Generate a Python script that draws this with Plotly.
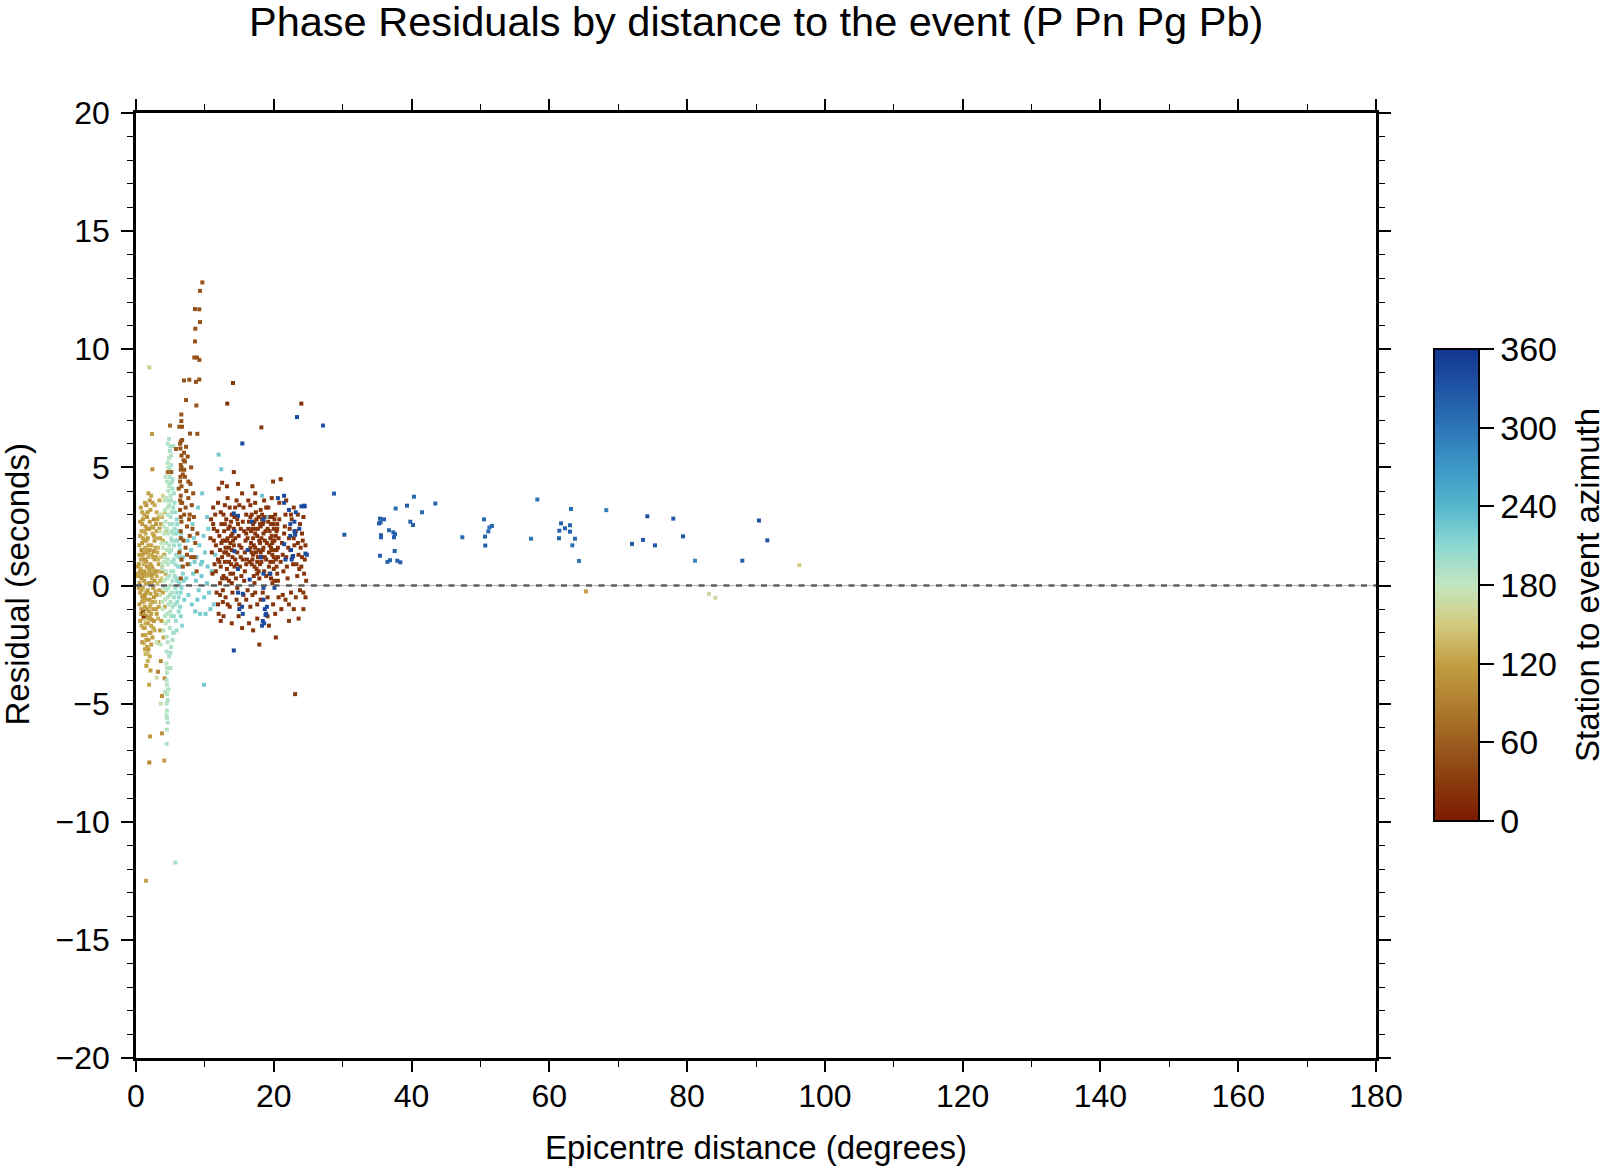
import plotly.graph_objects as go

# ---------------- data (distance deg, residual s, azimuth deg) ----------------
# near-field cluster, azimuth ~ 100-150 (ochre)
near_gold = [
(1.8,3.9,118),(2.0,3.6,112),(2.2,3.8,125),(1.5,3.4,108),(2.4,3.5,120),
(0.9,2.6,115),(1.2,3.0,128),(1.6,2.9,110),(2.1,3.2,122),(2.6,2.8,105),(3.0,3.1,130),(1.4,2.5,118),(2.9,2.6,112),(3.3,2.9,135),(0.7,3.3,120),
(0.6,2.1,125),(0.9,1.8,110),(1.1,2.3,118),(1.3,1.6,132),(1.7,2.0,115),(1.9,2.4,105),(2.2,1.7,122),(2.4,2.2,128),(2.7,1.9,112),(3.0,2.3,118),(3.2,1.6,140),(3.5,2.0,125),(0.8,1.5,100),(1.5,1.9,120),(2.0,1.5,115),(2.8,1.6,130),(3.4,2.4,110),(1.0,2.0,122),(2.5,2.45,118),
(0.4,0.9,112),(0.5,1.3,120),(0.7,0.7,128),(1.0,1.1,105),(1.2,0.6,118),(1.4,1.4,125),(1.6,0.8,110),(1.8,1.2,132),(2.1,0.9,120),(2.3,1.3,115),(2.5,0.7,138),(2.7,1.1,122),(2.9,0.6,108),(3.1,1.4,128),(3.3,0.9,118),(3.6,1.2,145),(0.9,0.5,112),(1.5,1.0,120),(2.0,0.55,125),(2.6,1.45,110),(3.8,0.8,140),(1.1,1.35,118),
(0.3,0.4,125),(0.5,0.1,115),(0.6,-0.3,120),(0.8,0.3,108),(1.0,-0.1,128),(1.2,0.2,118),(1.3,-0.4,112),(1.6,0.4,135),(1.7,-0.2,120),(1.9,0.1,105),(2.1,-0.35,122),(2.3,0.3,130),(2.5,-0.1,118),(2.7,0.2,112),(2.9,-0.4,125),(3.1,0.1,140),(3.4,-0.2,120),(3.7,0.3,150),(0.9,-0.45,115),(1.4,0.05,122),(2.2,0.45,110),(2.8,-0.25,128),
(0.5,-0.8,118),(0.7,-1.2,125),(0.9,-0.7,110),(1.1,-1.4,130),(1.3,-0.9,120),(1.5,-1.3,112),(1.7,-0.6,128),(1.9,-1.1,118),(2.1,-0.8,135),(2.3,-1.45,115),(2.5,-1.0,122),(2.8,-0.7,140),(3.0,-1.2,118),(3.3,-0.9,125),(1.2,-0.55,108),(2.0,-1.35,120),
(0.8,-1.7,128),(1.0,-2.1,118),(1.3,-1.8,135),(1.5,-2.3,120),(1.7,-1.6,112),(1.9,-2.0,140),(2.2,-1.7,125),(2.4,-2.2,118),(2.7,-1.9,130),(1.2,-2.45,145),(1.6,-2.6,122),
(1.4,-2.9,135),(1.69,-2.87,140),(1.8,-2.7,120),(2.0,-3.0,128),
(1.93,9.23,155),(2.32,6.41,112),(2.37,4.92,108),(1.45,-12.5,125),(2.03,-6.39,115),(3.77,-6.26,105),(1.93,-7.49,100),(4.11,-7.41,118),
(3.24,-2.41,95),(3.6,-3.2,100),(3.2,-3.65,92),(3.77,-4.68,105),(4.16,-3.93,98),(0.3,0.8,120),(0.3,0.5,118),(1.0,-1.1,15),(1.1,-1.3,20),
(0.6,2.7,118),(0.8,2.3,125),(1.0,2.8,112),(1.2,1.9,120),(1.4,2.2,128),(1.6,2.4,115),(1.8,1.7,122),(2.0,2.7,110),(2.3,2.5,125),(2.6,2.1,118),
(2.9,2.0,132),(3.1,2.8,120),(0.5,1.7,115),(0.7,1.1,122),(0.9,1.3,118),(1.1,0.9,128),(1.3,1.1,112),(1.5,1.5,125),(1.7,1.4,118),(1.9,0.7,120),
(2.1,1.3,130),(2.3,0.8,115),(2.5,1.2,122),(2.7,0.5,118),(2.9,1.2,125),(3.2,1.1,135),(3.5,0.6,128),(0.4,-0.1,120),(0.6,0.6,118),(0.8,-0.2,125),
(1.0,0.4,112),(1.1,-0.7,128),(1.3,0.5,120),(1.5,-0.3,115),(1.8,0.5,125),(2.0,-0.6,118),(2.2,0.1,122),(2.4,0.6,128),(2.6,-0.5,112),(3.0,0.4,130),
(3.2,-0.4,120),(3.5,0.2,138),(0.6,-1.5,120),(0.8,-1.0,112),(1.0,-0.6,125),(1.2,-1.2,118),(1.4,-1.6,130),(1.6,-1.0,115),(1.8,-1.4,122),(2.0,-0.9,128),
(2.2,-1.2,118),(2.4,-0.7,125),(2.6,-1.5,112),(2.9,-1.0,120),(3.2,-1.4,130),(1.1,-1.8,118),(1.4,-2.1,125),(1.8,-2.3,120),(2.1,-2.0,112),(2.5,-1.8,128),
(0.9,-2.4,118),(1.3,-2.7,122),(1.7,-3.2,130),(2.2,-2.5,118),(0.9,3.1,125),(1.3,3.5,120),(1.7,3.1,118),(2.7,3.4,128),(1.9,-4.2,125),(2.1,-3.6,120),
(1.5,-3.4,118),
(3.6,2.6,122),(3.9,1.9,128),(4.1,1.3,118),(4.3,0.5,125),(3.9,-0.3,120),(4.2,-0.9,130),(3.7,-1.5,118),(4.0,-2.2,125),(3.5,-1.9,112),(3.8,2.9,135),
(4.4,2.3,128),(3.6,-0.7,120),(3.9,0.6,115),(4.2,3.1,140),(3.4,3.6,125),
]

# near-field cluster, azimuth ~ 180-205 (mint)
near_mint = [
(4.6,6.0,190),(4.9,5.7,195),(4.8,5.4,188),(5.1,5.1,192),(4.7,5.0,185),(5.2,4.8,198),(4.9,4.6,190),(4.5,4.4,186),(5.0,4.3,194),(5.3,4.1,200),
(4.7,4.0,188),(5.5,3.9,196),(4.4,3.7,184),(5.1,3.6,192),(4.8,3.4,190),(5.4,3.3,198),(4.2,3.2,182),(5.7,3.1,202),(4.6,3.0,188),(5.0,2.9,194),
(5.9,2.8,205),(4.3,2.7,184),(5.3,2.6,196),(4.0,2.5,180),(5.6,2.4,200),(6.2,2.3,208),(4.7,2.2,188),(5.1,2.0,192),(6.0,1.9,204),(4.4,1.8,186),
(5.5,1.7,198),(3.9,1.6,178),(6.4,1.5,210),(4.9,1.4,190),(5.8,1.3,202),(4.2,1.2,184),(6.6,1.1,212),(5.2,1.0,194),(4.6,0.9,188),(6.1,0.8,206),
(3.8,0.7,180),(5.4,0.6,196),(6.8,0.5,214),(4.8,0.4,190),(5.9,0.3,202),(4.1,0.2,182),(6.3,0.1,208),(5.0,0.0,192),(5.7,-0.1,200),(4.4,-0.2,186),
(6.5,-0.3,210),(4.9,-0.4,190),(5.5,-0.5,198),(4.2,-0.6,184),(6.0,-0.7,204),(4.7,-0.8,188),(5.3,-0.9,194),(3.9,-1.0,180),(6.2,-1.1,206),(4.5,-1.2,186),
(5.1,-1.3,192),(5.8,-1.5,200),(4.3,-1.6,184),(6.7,-1.7,212),(4.9,-1.8,190),(5.4,-2.0,196),(4.45,-2.17,188),(4.45,-2.8,190),(5.0,-2.85,194),(5.3,-2.3,196),
(5.5,-2.0,198),(3.0,-2.4,175),(3.6,-2.5,180),(4.4,-3.3,186),(5.0,-3.5,192),(4.5,-3.7,188),(3.0,-3.9,172),(4.45,-4.0,188),(4.5,-4.2,186),(4.2,-4.5,184),
(4.5,-4.6,188),(4.6,-4.85,190),(3.58,-5.0,170),(4.45,-5.0,188),(4.5,-5.3,186),(4.5,-5.6,190),(4.45,-6.7,188),(5.71,-11.73,195),
(6.6,2.0,210),(6.8,1.2,214),(6.9,0.2,215),(7.0,-0.6,216),(5.6,0.4,198),(5.2,1.9,194),(4.6,1.1,188),(4.0,-0.1,182),(3.8,0.9,178),(5.6,3.5,200),
(5.3,4.5,196),(4.7,3.6,188),(5.8,2.2,202),(6.3,1.7,208),(4.3,0.6,184),(5.0,-1.1,192),(6.4,-0.9,210),(3.7,1.8,176),(4.1,2.2,182),(5.9,-0.3,204),
(3.6,3.0,165),(3.4,2.3,165),(3.9,3.8,160),(3.5,-0.4,165),(5.1,5.5,190),(4.8,6.2,192),(5.4,5.9,194),(5.2,2.3,192),(4.5,1.5,186),(5.7,0.9,200),
(4.6,5.2,188),(5.0,5.9,192),(4.9,4.9,190),(5.2,4.4,194),(4.8,4.2,188),(5.0,3.8,192),(4.6,3.3,186),(5.2,3.1,194),(4.9,2.6,190),(4.5,2.4,186),
(5.4,2.2,196),(6.0,2.6,204),(6.5,2.2,210),(5.7,1.9,200),(4.8,1.7,188),(5.1,1.5,192),(6.2,1.2,206),(5.5,1.1,198),(4.4,1.0,184),(6.5,0.8,210),
(5.1,0.6,192),(4.5,0.3,186),(6.0,0.2,204),(5.3,0.2,194),(6.6,-0.1,212),(4.7,-0.1,188),(5.2,-0.3,194),(6.2,-0.5,206),(4.6,-0.5,188),(5.7,-0.8,200),
(5.0,-0.7,192),(6.5,-1.3,210),(4.2,-1.3,184),(5.5,-1.3,198),(4.7,-1.5,188),(5.9,-1.9,202),(4.6,-2.4,188),(5.1,-2.6,192),(4.8,-3.0,190),(4.5,-3.5,186),
(4.7,-4.4,188),(4.4,-5.5,186),(4.6,-5.8,190),(4.5,-6.1,188),(4.1,3.6,180),(4.3,4.6,182),(4.0,1.0,180),(3.8,-0.7,178),(4.0,-1.9,180),
]

# near-field cluster, azimuth ~ 45-60 (brown)
near_brown = [
(9.63,12.83,50),(9.29,12.47,52),(8.56,11.70,48),(9.19,11.69,50),(9.29,11.15,52),(8.61,10.87,50),(8.56,10.33,48),(8.46,9.65,50),(8.85,9.65,52),(9.19,9.55,50),
(6.97,8.68,52),(7.74,8.71,50),(8.71,8.62,48),(9.19,8.72,50),(7.26,7.85,52),(8.76,7.62,50),(6.58,7.24,55),(6.58,6.96,52),(4.94,6.77,70),(6.29,6.72,55),
(6.68,6.72,50),(7.84,6.43,48),(8.9,6.42,52),(6.5,6.1,55),(6.7,6.16,50),(7.26,5.87,52),(5.8,5.78,60),(6.97,5.62,50),(7.5,5.46,48),(6.9,5.3,52),
(7.1,5.25,50),(4.6,4.8,70),(5.1,4.8,65),(6.5,4.9,55),(6.8,4.7,50),(7.1,4.6,52),(6.4,4.4,55),(6.6,4.2,50),(7.3,4.0,48),(6.5,3.8,52),
(7.6,3.7,50),(6.7,3.5,55),(8.1,3.4,48),(6.4,3.2,52),(7.0,3.0,50),(8.4,2.9,48),(6.6,2.7,55),(7.4,2.5,50),(6.5,2.3,52),(7.8,2.1,48),
(6.9,1.9,50),(8.6,1.8,48),(7.2,1.6,52),(6.3,1.4,55),(8.0,1.2,50),(7.5,0.9,48),(8.8,0.6,50),(6.8,0.8,52),(7.7,2.8,50),(6.2,4.1,55),
(6.6,5.5,52),(7.9,4.3,48),(8.3,3.9,50),(6.4,6.0,52),(6.5,5.1,55),(6.45,4.6,52),(6.55,3.5,50),(6.5,2.9,52),
(6.45,5.8,52),(6.6,5.0,50),(6.4,3.6,55),(6.5,2.0,50),(6.6,1.1,52),(6.5,0.3,55),(7.2,3.3,48),(7.8,3.0,50),(8.2,2.4,52),(7.4,1.3,48),
(8.5,1.2,50),(8.9,2.2,48),(7.0,4.9,52),(7.6,4.4,50),(8.0,5.0,48),
]

# azimuth ~ 215-225 (cyan)
near_cyan = [
(7.5,1.9,220),(8.0,1.5,222),(8.4,2.0,218),(8.8,1.2,222),(9.2,1.7,220),(9.6,1.0,224),(10.0,1.4,220),(10.4,0.8,222),(7.8,0.9,218),(8.3,0.5,220),
(8.7,0.2,222),(9.1,-0.2,220),(9.5,0.4,224),(9.9,-0.5,220),(10.3,0.1,222),(7.6,-0.4,218),(8.1,-0.8,220),(8.6,-1.1,222),(9.3,-1.2,220),(10.1,-1.2,224),
(7.3,0.3,216),(9.8,2.1,220),(8.9,-0.6,222),(10.6,-0.3,220),(11.0,0.6,224),(11.5,1.3,222),(11.3,-0.8,220),(12.0,5.54,222),(12.38,4.92,224),(9.87,-4.2,222),
(10.5,2.4,220),(8.2,2.6,218),(9.6,3.9,222),(9.0,3.3,220),(10.3,2.9,222),(18.3,3.8,225),(18.9,2.9,224),(9.4,0.9,220),(10.8,-1.0,222),(8.5,1.0,220),
]

# regional cluster, azimuth ~ 20-30 (dark brown)
regional_dark = [
(10.8,2.0,25),(11.0,1.4,22),(11.2,2.6,28),(11.4,0.9,24),(11.6,1.7,26),(11.8,2.3,22),(11.9,1.1,25),(11.5,3.0,28),(11.1,0.5,24),(11.7,-0.3,26),
(11.9,-0.8,22),(12.0,-1.2,25),(11.3,1.9,28),(10.9,2.8,24),
(12.1,2.1,25),(12.2,1.5,22),(12.3,0.8,28),(12.4,2.6,24),(12.5,1.2,26),(12.6,1.9,22),(12.7,0.4,25),(12.8,2.3,28),(12.9,1.0,24),(13.0,1.6,26),
(13.1,2.8,22),(13.2,0.7,25),(13.3,2.0,28),(13.4,1.3,24),(13.5,0.2,26),(13.6,2.5,22),(13.7,1.8,25),(13.8,0.9,28),(13.9,1.5,24),(14.0,2.2,26),
(14.1,0.5,22),(14.2,1.7,25),(14.3,2.9,28),(14.4,1.1,24),(14.5,0.3,26),(12.3,3.1,22),(12.6,-0.7,25),(12.7,-1.3,28),(12.6,-0.2,24),(13.0,-0.5,26),
(13.6,-0.9,22),(14.0,-0.3,25),(12.2,0.1,28),(12.9,3.4,24),(13.3,3.7,26),(14.4,3.3,22),(13.2,4.2,25),(12.0,4.1,28),(12.5,4.35,24),(14.8,4.3,26),
(14.2,4.8,22),(12.9,1.9,25),(13.5,1.0,28),(14.2,2.4,24),(13.8,2.7,26),
(14.7,1.4,25),(14.9,2.1,22),(15.1,0.8,28),(15.3,1.6,24),(15.5,2.7,26),(15.7,0.2,22),(15.9,1.9,25),(16.1,1.1,28),(16.3,2.4,24),(15.0,-0.8,26),
(15.6,-0.4,22),(16.2,-0.2,25),(15.4,-1.8,28),(15.4,3.9,24),(15.6,3.3,26),(16.0,3.0,22),(14.8,2.6,25),(15.2,1.2,28),(15.8,0.6,24),(16.4,1.5,26),
(16.6,2.9,25),(16.7,1.8,22),(16.8,0.9,28),(16.9,2.4,24),(17.0,1.3,26),(17.1,0.4,22),(17.2,2.7,25),(17.3,1.6,28),(17.4,3.1,24),(17.5,0.7,26),
(17.6,2.1,22),(17.7,1.2,25),(17.8,2.9,28),(17.9,0.3,24),(18.0,1.8,26),(18.1,2.5,22),(18.2,1.0,25),(18.3,3.0,28),(18.4,1.5,24),(18.5,2.2,26),
(18.6,0.6,22),(18.7,1.9,25),(16.9,-0.4,28),(17.6,-1.4,24),(17.9,-2.5,26),(18.1,-0.6,22),(17.3,3.5,25),(18.1,3.2,28),(16.6,3.4,24),(17.3,3.9,26),
(18.9,3.3,22),(17.0,2.0,25),(17.8,1.5,28),(18.3,2.8,24),(16.8,1.4,26),(17.4,2.4,22),(18.0,0.9,25),(18.5,2.7,28),(17.2,0.1,24),
(18.9,1.1,25),(19.1,2.4,22),(19.3,0.8,28),(19.4,1.7,24),(19.5,2.9,26),(19.6,0.3,22),(19.7,2.1,25),(19.8,1.3,28),(19.9,2.6,24),(20.0,0.7,26),
(20.1,1.9,22),(20.2,3.0,25),(20.3,1.1,28),(20.4,2.3,24),(20.5,0.5,26),(20.6,1.6,22),(20.8,2.8,25),(21.0,1.0,28),(19.3,-1.7,24),(19.1,-1.3,26),
(20.3,-2.2,22),(19.7,3.7,25),(20.8,3.5,28),(21.0,4.5,24),(19.6,1.6,26),(20.0,2.4,22),(20.1,0.2,25),(19.9,1.0,28),(20.4,1.5,24),(19.5,2.0,26),
(21.2,1.8,25),(21.4,0.6,22),(21.6,2.5,28),(21.8,1.2,24),(22.0,0.3,26),(22.2,2.0,22),(22.4,1.5,25),(22.6,2.8,28),(22.8,0.9,24),(23.0,1.7,26),
(23.2,2.3,22),(23.4,0.4,25),(23.6,1.3,28),(23.8,2.6,24),(24.0,0.8,26),(24.2,1.9,22),(24.5,1.1,25),(24.7,0.2,28),(21.1,-1.0,24),(22.2,-0.8,26),
(22.9,-1.0,22),(24.3,-1.0,25),(24.3,-0.3,28),(21.8,3.6,24),(23.1,-4.6,26),(24.0,7.7,22),(22.5,3.0,25),(23.5,3.0,28),(24.1,2.2,24),
(14.08,8.57,25),(13.25,7.70,22),(18.2,6.69,28),(17.6,0.5,24),(19.8,1.8,26),(13.1,1.4,25),(16.0,2.2,24),(20.5,2.6,22),
(11.3,2.4,24),(11.6,0.6,26),(12.1,1.0,25),(12.4,1.8,22),(12.5,0.3,26),(12.8,1.4,24),(12.9,2.6,28),(13.1,0.3,25),(13.2,1.9,22),(13.4,2.4,26),
(13.5,1.6,24),(13.7,0.5,28),(13.8,2.1,25),(13.9,3.0,22),(14.0,1.2,26),(14.1,1.9,24),(14.3,0.8,28),(14.4,2.0,25),(14.6,0.9,22),(14.7,2.8,26),
(15.0,1.7,24),(15.2,2.4,28),(15.3,0.4,25),(15.5,1.1,22),(15.7,2.3,26),(15.8,1.4,24),(16.0,0.9,28),(16.2,2.0,25),(16.4,2.7,22),(16.5,1.0,26),
(16.6,1.6,24),(16.7,2.3,28),(16.8,3.0,25),(16.9,1.1,22),(17.0,2.6,26),(17.1,1.7,24),(17.2,0.8,28),(17.3,2.2,25),(17.4,1.4,22),(17.5,2.8,26),
(17.6,1.0,24),(17.7,2.4,28),(17.8,0.6,25),(17.9,1.9,22),(18.0,2.6,26),(18.1,1.4,24),(18.2,2.0,28),(18.3,1.2,25),(18.4,2.6,22),(18.5,1.6,26),
(18.6,2.9,24),(18.7,1.2,28),(18.8,2.3,25),(19.0,1.8,22),(19.2,2.7,26),(19.3,1.4,24),(19.4,2.3,28),(19.5,1.0,25),(19.6,2.6,22),(19.7,1.5,26),
(19.8,2.9,24),(19.9,1.9,28),(20.0,1.2,25),(20.1,2.8,22),(20.2,1.5,26),(20.3,2.1,24),(20.4,0.8,28),(20.5,2.4,25),(20.6,1.2,22),(20.7,2.0,26),
(19.4,0.5,24),(19.8,0.1,28),(20.6,0.2,25),(18.9,0.4,22),(21.3,1.3,26),(21.5,2.2,24),(21.9,0.8,28),(22.1,1.6,25),(22.3,2.4,22),(22.7,1.2,26),
(22.9,2.0,24),(23.3,0.9,28),(23.5,1.8,25),(23.7,0.7,22),(23.9,1.6,26),(24.1,1.2,24),(24.4,0.5,28),(24.6,1.7,25),(21.3,-0.4,22),(21.7,-0.6,26),
(22.5,-0.3,24),(23.2,-0.5,28),(23.8,-0.2,25),(24.6,-0.5,22),(12.2,-0.4,26),(13.3,-0.8,24),(14.6,-0.6,28),(16.0,-0.6,25),(16.6,-0.9,22),(17.3,-0.3,26),
(17.6,-0.8,24),(18.4,-0.3,28),(19.1,-0.5,25),(19.9,-0.8,22),(20.7,-0.5,26),(20.2,-1.2,24),(16.4,-1.6,28),(17.0,-1.9,25),(14.9,-1.3,22),(13.9,-1.6,26),
(12.3,-1.5,24),(22.2,-1.5,28),(23.6,-1.4,25),(21.7,3.0,22),(22.9,3.3,26),(24.3,2.9,24),(19.2,3.3,28),(18.6,3.6,25),(16.3,3.6,22),(15.0,3.4,26),
(14.6,3.6,24),(13.6,3.3,28),(12.7,3.0,25),(11.9,3.5,22),(11.2,3.3,26),(16.9,4.2,24),(19.9,4.4,28),(14.7,-0.1,25),(13.9,0.1,22),
]

# regional cluster, azimuth ~ 335-345 (dark blue)
regional_blue = [
(23.37,7.13,340),(15.43,6.01,342),(20.6,3.7,338),(21.5,3.8,340),(21.5,3.5,342),(24.0,3.35,336),(24.5,3.35,340),(23.2,3.1,338),(22.2,3.2,342),(22.4,2.6,340),
(23.0,2.7,336),(23.0,2.3,340),(23.1,2.15,342),(22.4,2.1,338),(23.7,2.4,340),(24.8,1.3,336),(22.5,1.5,340),(22.8,1.25,342),(21.5,1.75,338),(21.7,1.1,340),
(22.6,1.1,342),(18.1,1.2,340),(18.5,0.5,338),(19.5,0.5,342),(20.1,-0.1,340),(18.5,-0.1,336),(16.5,0.25,340),(14.3,1.45,342),(14.3,2.3,338),(14.2,3.05,340),
(14.8,2.95,342),(16.8,2.7,340),(18.5,2.8,338),(16.2,1.5,340),(14.8,0.7,342),(14.8,-0.3,340),(15.5,-0.35,338),(15.0,-1.0,342),(15.4,-0.9,340),(15.5,-1.2,336),
(18.5,-0.6,340),(18.7,-1.0,342),(18.9,-1.2,338),(18.8,-1.25,340),(18.4,-1.5,342),(18.3,-1.7,340),(18.6,-1.6,338),(19.0,-0.9,340),(14.2,-2.75,342),(24.39,3.38,340),
(24.6,1.35,338),
]

# teleseismic stations
teleseismic = [
(27.15,6.77,330),(28.74,3.89,325),(30.24,2.15,320),(35.42,2.83,318),(36.0,2.80,320),(35.27,2.63,322),(35.5,2.67,318),(37.69,3.26,312),(39.34,3.38,320),(40.35,3.76,310),
(43.45,3.47,315),(41.52,3.10,312),(39.82,2.70,318),(40.21,2.56,320),(36.73,2.34,316),(37.35,2.25,318),(37.6,2.17,320),(35.56,2.13,325),(35.56,2.04,322),(37.45,2.04,318),
(37.55,1.46,320),(35.42,1.26,322),(36.87,1.07,318),(36.5,1.0,316),(37.93,1.05,320),(38.37,0.98,322),(47.37,2.04,312),(50.52,2.80,310),(51.3,2.46,305),(51.68,2.52,308),
(51.14,2.29,312),(50.66,2.07,315),(50.7,1.69,318),(57.34,1.98,300),(58.26,3.64,305),(63.15,3.24,308),(61.7,2.63,318),(63.0,2.55,315),(62.27,2.42,320),(61.45,2.32,316),
(63.0,2.28,318),(61.4,2.0,320),(63.72,1.98,310),(63.34,1.70,305),(64.31,1.04,300),(68.27,3.19,290),(72.0,1.76,330),(73.6,1.93,328),(74.22,2.93,332),(75.34,1.70,326),
(78.0,2.83,325),(79.4,2.08,330),(81.14,1.05,285),(88.01,1.05,320),(90.43,2.75,335),(91.64,1.91,330),
(96.29,0.86,150),(65.32,-0.25,120),(83.18,-0.35,165),(84.1,-0.52,165),
]

# colour-bar ticks
AZ_TICKS = [0, 60, 120, 180, 240, 300, 360]

groups = [near_gold, near_mint, near_cyan, near_brown, regional_dark, regional_blue, teleseismic]
dist, resid, azim = [], [], []
for g in groups:
    for d, r, a in g:
        dist.append(d); resid.append(r); azim.append(a)

ROMA = [
    [0.000, '#7e1900'], [0.083, '#8a3b0e'], [0.167, '#9c5d1f'], [0.250, '#af7f2f'],
    [0.333, '#c19f42'], [0.417, '#d3cb7f'], [0.500, '#c2e6c0'], [0.583, '#8cd8d1'],
    [0.667, '#55b6cd'], [0.750, '#3c97c6'], [0.833, '#2d76b7'], [0.917, '#2055a5'],
    [1.000, '#123590'],
]

FONT = 'Liberation Sans, Arial, Helvetica, sans-serif'
W, H = 1600, 1168
L, R, T, B = 136, 224, 113, 110
PW, PH = W - L - R, H - T - B

fig = go.Figure()
fig.add_trace(go.Scatter(
    x=dist, y=resid, mode='markers', hoverinfo='skip', showlegend=False,
    marker=dict(symbol='square', size=4, color=azim, colorscale=ROMA, cmin=0, cmax=360,
                line=dict(width=0),
                colorbar=dict(thickness=45, len=472, lenmode='pixels',
                              x=(1434 - L) / PW, xanchor='left', xpad=0,
                              y=(T + PH - 585) / PH, yanchor='middle', ypad=0,
                              outlinewidth=2, outlinecolor='black',
                              tickmode='array', tickvals=AZ_TICKS,
                              ticks='outside', ticklen=14, tickwidth=1.5, tickcolor='black',
                              tickfont=dict(size=34, color='black', family=FONT))),
))

# zero reference line
fig.add_shape(type='line', xref='x', yref='y', x0=0, x1=180, y0=0, y1=0,
              line=dict(color='#b8b8b8', width=1.2), layer='above')
fig.add_shape(type='line', xref='x', yref='y', x0=0, x1=180, y0=0, y1=0,
              line=dict(color='#5e5e5e', width=2.4, dash='6px,6.5px'), layer='above')

axis_common = dict(ticks='outside', tickwidth=1.5, tickcolor='black', showline=True,
                   linewidth=2.5, linecolor='black', mirror='ticks', showgrid=False,
                   zeroline=False, tickfont=dict(size=32, color='black', family=FONT))
fig.update_xaxes(range=[0, 180], tick0=0, dtick=20, ticklen=11, ticklabelstandoff=-3,
                 minor=dict(dtick=10, ticks='outside', ticklen=6, tickwidth=1.2,
                            tickcolor='black', showgrid=False),
                 **axis_common)
fig.update_yaxes(range=[-20, 20], tick0=0, dtick=5, ticklen=12, ticklabelstandoff=5,
                 minor=dict(dtick=1, ticks='outside', ticklen=6, tickwidth=1.2,
                            tickcolor='black', showgrid=False),
                 **axis_common)

fig.add_annotation(text='Phase Residuals by distance to the event (P Pn Pg Pb)',
                   xref='paper', yref='paper', x=0.5, y=(T + PH - 21) / PH,
                   xanchor='center', yanchor='middle', showarrow=False,
                   font=dict(size=41.5, color='black', family=FONT))
fig.add_annotation(text='Epicentre distance (degrees)', xref='paper', yref='paper',
                   x=0.5, y=(T + PH - 1147) / PH, xanchor='center', yanchor='middle',
                   showarrow=False, font=dict(size=33, color='black', family=FONT))
fig.add_annotation(text='Residual (seconds)', xref='paper', yref='paper',
                   x=(16.5 - L) / PW, y=(T + PH - 585) / PH, textangle=-90,
                   xanchor='center', yanchor='middle', showarrow=False,
                   font=dict(size=33, color='black', family=FONT))
fig.add_annotation(text='Station to event azimuth', xref='paper', yref='paper',
                   x=(1587 - L) / PW, y=(T + PH - 585) / PH, textangle=-90,
                   xanchor='center', yanchor='middle', showarrow=False,
                   font=dict(size=33, color='black', family=FONT))

fig.update_layout(width=W, height=H, autosize=False,
                  margin=dict(l=L, r=R, t=T, b=B, pad=0),
                  paper_bgcolor='white', plot_bgcolor='white',
                  font=dict(family=FONT, color='black'))

fig.write_html('out.html', config={'displayModeBar': False},
               post_script="document.body.style.margin='0';document.body.style.overflow='hidden';")
